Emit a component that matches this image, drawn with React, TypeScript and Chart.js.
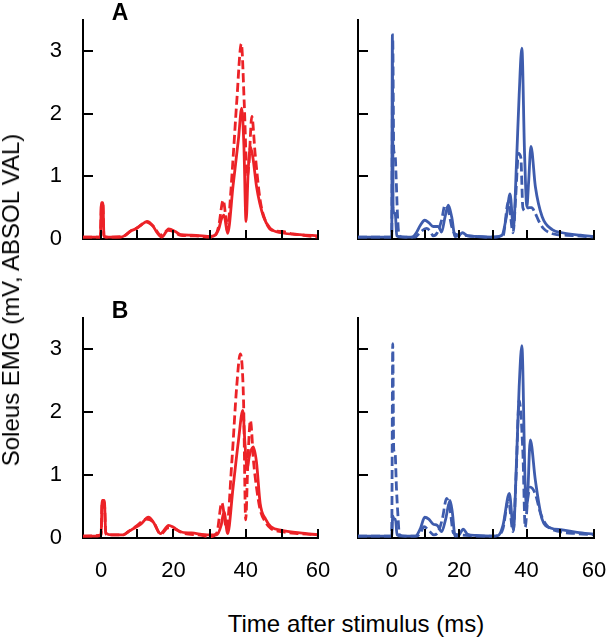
import React, { useEffect, useRef } from "react";
import { Chart, registerables } from "chart.js";

Chart.register(...registerables);

const RED = "#EC2227";
const BLUE = "#3E5CAD";
const FONT = "'Liberation Sans', Arial, Helvetica, sans-serif";

// Tick values
const X_TICKS = [0, 10, 20, 30, 40, 50, 60];
const X_LABELED = [0, 20, 40, 60];
const Y_TICKS = [0, 1, 2, 3];

// Panel A, left (red)
const aRedSolidT = [-5, -1, -0.2, 0.1, 0.5, 0.8, 1.2, 3, 5.5, 7, 8.2, 9.5, 11, 12.7, 14.2, 15.5, 16.8, 18.7, 20.5, 22, 25, 28, 30, 31.5, 32.5, 33.3, 34, 35, 36.5, 38, 38.9, 39.5, 40.1, 40.7, 41.3, 42, 43, 44.9, 46.8, 50, 55, 60];
const aRedSolidV = [0.03, 0.03, 0.03, 0.58, 0.58, 0.06, 0.03, 0.03, 0.03, 0.07, 0.13, 0.16, 0.22, 0.28, 0.22, 0.1, 0.03, 0.16, 0.12, 0.07, 0.06, 0.05, 0.04, 0.06, 0.15, 0.32, 0.38, 0.09, 0.85, 1.6, 2.09, 1.5, 0.28, 1.1, 1.47, 1.3, 0.84, 0.36, 0.17, 0.1, 0.07, 0.05];
const aRedDashT = [-5, -0.2, 0.1, 0.5, 0.8, 2, 6, 8, 10, 12.5, 14.5, 16.5, 18.5, 20, 22, 26, 30, 31.5, 32.5, 33.8, 34.4, 35, 35.7, 36.6, 37.5, 38.8, 39.6, 40.4, 40.9, 41.7, 42.6, 44, 45.4, 47.2, 50, 53, 56, 60];
const aRedDashV = [0.03, 0.03, 0.55, 0.55, 0.04, 0.03, 0.04, 0.12, 0.18, 0.27, 0.2, 0.06, 0.14, 0.12, 0.06, 0.05, 0.03, 0.05, 0.2, 0.62, 0.4, 0.12, 0.6, 1.37, 2.17, 3.12, 2.17, 1.0, 1.2, 1.96, 1.37, 0.62, 0.3, 0.14, 0.12, 0.08, 0.06, 0.03];

// Panel A, right (blue)
const aBlueSolidT = [-10, -0.3, 0, 0.2, 0.4, 0.7, 1.1, 1.5, 3, 6, 7.3, 8.5, 9.8, 11, 12.3, 13.8, 14.8, 15.8, 16.8, 17.8, 18.8, 20, 21, 22.5, 25, 30, 32.7, 34, 35.1, 36.1, 37, 37.8, 38.6, 39.4, 40.1, 40.6, 41.3, 42.6, 44.6, 47.6, 50.6, 56, 60];
const aBlueSolidV = [0.03, 0.03, 0.03, 3.26, 0.5, 0.42, 0.38, 0.05, 0.03, 0.03, 0.1, 0.22, 0.3, 0.26, 0.2, 0.2, 0.11, 0.35, 0.54, 0.35, 0.04, 0.06, 0.1, 0.05, 0.04, 0.03, 0.06, 0.35, 0.72, 0.17, 1.2, 2.3, 3.05, 1.37, 0.52, 0.9, 1.48, 0.84, 0.36, 0.15, 0.1, 0.06, 0.04];
const aBlueDashT = [-10, -0.3, 0, 0.3, 0.6, 1.0, 1.3, 1.7, 2.2, 4, 7, 8.3, 10.3, 11.5, 12.3, 13.5, 14.8, 15.8, 16.8, 17.8, 18.8, 21, 25, 30, 33, 34.6, 36, 36.8, 37.6, 38.3, 38.9, 39.6, 40.5, 41.5, 42.5, 43.5, 45, 48, 52, 60];
const aBlueDashV = [0.03, 0.03, 0.03, 3.2, 1.42, 1.35, 1.0, 0.4, 0.05, 0.03, 0.03, 0.1, 0.17, 0.12, 0.05, 0.1, 0.3, 0.54, 0.45, 0.2, 0.08, 0.06, 0.04, 0.03, 0.05, 0.6, 0.1, 0.7, 1.37, 1.3, 0.5, 0.45, 0.5, 0.5, 0.42, 0.3, 0.17, 0.08, 0.06, 0.03];

// Panel B, left (red)
const bRedSolidT = [-5, -1, 0, 0.3, 0.9, 1.3, 3, 6.2, 7.5, 9, 11, 13.1, 14.5, 16.4, 18.7, 20, 21.9, 25, 30, 32, 33.2, 34, 35, 36.5, 38, 39.2, 39.8, 40.4, 41, 42.1, 43, 44, 45.5, 47, 50, 55, 60];
const bRedSolidV = [0.03, 0.03, 0.05, 0.6, 0.6, 0.08, 0.05, 0.05, 0.1, 0.15, 0.22, 0.33, 0.25, 0.07, 0.2, 0.17, 0.1, 0.08, 0.05, 0.05, 0.2, 0.42, 0.07, 0.8, 1.55, 2.03, 1.5, 1.1, 1.3, 1.45, 1.2, 0.55, 0.3, 0.18, 0.12, 0.08, 0.05];
const bRedDashT = [-5, 0, 0.3, 0.9, 1.3, 3, 6, 8, 10, 12.5, 14.5, 16.5, 18.5, 20.5, 23, 27, 30, 32, 33.4, 34.7, 36.2, 37.5, 38.5, 39.4, 40, 40.6, 41.3, 42.2, 43, 44, 45.5, 47, 50, 55, 60];
const bRedDashV = [0.03, 0.05, 0.58, 0.58, 0.06, 0.05, 0.05, 0.12, 0.2, 0.3, 0.25, 0.06, 0.16, 0.14, 0.07, 0.05, 0.02, 0.08, 0.56, 0.15, 1.24, 2.4, 2.93, 2.2, 0.29, 1.2, 1.87, 1.2, 0.8, 0.45, 0.25, 0.15, 0.1, 0.07, 0.05];

// Panel B, right (blue)
const bBlueSolidT = [-10, -0.3, 0, 0.3, 0.7, 1.1, 1.6, 3, 7, 8.5, 9.8, 11, 12.3, 13.5, 14.8, 16, 17.3, 18, 18.8, 20, 21.2, 22.5, 25, 30, 31.6, 33, 34.9, 36.1, 37, 37.8, 38.6, 39.6, 40.1, 41.1, 42.6, 44.6, 47.1, 50.6, 55, 60];
const bBlueSolidV = [0.03, 0.03, 0.03, 0.35, 0.3, 0.3, 0.05, 0.03, 0.03, 0.15, 0.33, 0.3, 0.22, 0.2, 0.1, 0.3, 0.6, 0.4, 0.03, 0.05, 0.14, 0.06, 0.04, 0.03, 0.04, 0.2, 0.71, 0.13, 1.2, 2.4, 3.06, 0.81, 0.5, 1.56, 0.92, 0.3, 0.16, 0.13, 0.09, 0.06];
const bBlueDashT = [-10, -0.3, 0, 0.3, 0.6, 1.0, 1.4, 1.8, 2.3, 4, 7.5, 8.5, 9.6, 11, 12.5, 13.8, 15, 16.3, 17.3, 18.3, 20, 25, 30, 31.5, 33, 34.6, 36, 36.9, 37.8, 38.9, 39.6, 40.3, 41.1, 42.6, 44.1, 46, 50, 55, 60];
const bBlueDashV = [0.03, 0.03, 0.03, 3.09, 1.4, 1.35, 0.8, 0.4, 0.05, 0.03, 0.03, 0.08, 0.18, 0.12, 0.05, 0.1, 0.3, 0.63, 0.45, 0.08, 0.05, 0.03, 0.03, 0.04, 0.15, 0.6, 0.1, 1.0, 2.19, 1.37, 0.17, 0.6, 0.81, 0.7, 0.4, 0.2, 0.1, 0.07, 0.05];

const pts = (t: number[], v: number[]) => t.map((x, i) => ({ x, y: v[i] }));

type Panel = {
  key: string;
  left: number; top: number; width: number; height: number;
  area: { left: number; top: number; right: number; bottom: number };
  xMin: number;
  color: string;
  solid: { x: number; y: number }[];
  dashed: { x: number; y: number }[];
  showY: boolean;
  showX: boolean;
};

const PANELS: Panel[] = [
  { key: "AL", left: 0, top: 0, width: 340, height: 265, area: { left: 83, top: 20, right: 318, bottom: 239 }, xMin: -5, color: RED, solid: pts(aRedSolidT, aRedSolidV), dashed: pts(aRedDashT, aRedDashV), showY: true, showX: false },
  { key: "AR", left: 330, top: 0, width: 278, height: 265, area: { left: 358, top: 20, right: 594, bottom: 239 }, xMin: -10, color: BLUE, solid: pts(aBlueSolidT, aBlueSolidV), dashed: pts(aBlueDashT, aBlueDashV), showY: false, showX: false },
  { key: "BL", left: 0, top: 298, width: 340, height: 310, area: { left: 83, top: 318, right: 318, bottom: 538 }, xMin: -5, color: RED, solid: pts(bRedSolidT, bRedSolidV), dashed: pts(bRedDashT, bRedDashV), showY: true, showX: true },
  { key: "BR", left: 330, top: 298, width: 278, height: 310, area: { left: 358, top: 318, right: 594, bottom: 538 }, xMin: -10, color: BLUE, solid: pts(bBlueSolidT, bBlueSolidV), dashed: pts(bBlueDashT, bBlueDashV), showY: false, showX: true },
];

const inwardTicks = {
  id: "inwardTicks",
  afterDraw(chart: any) {
    const { ctx, chartArea, scales } = chart;
    const xs = scales.x;
    const ys = scales.y;
    ctx.save();
    ctx.strokeStyle = "#000";
    ctx.lineWidth = 2;
    ctx.beginPath();
    xs.ticks.forEach((t: any) => {
      const px = Math.round(xs.getPixelForValue(t.value));
      ctx.moveTo(px, chartArea.bottom);
      ctx.lineTo(px, chartArea.bottom - 9);
    });
    ys.ticks.forEach((t: any) => {
      if (t.value === 0) return;
      const py = Math.round(ys.getPixelForValue(t.value));
      ctx.moveTo(chartArea.left, py);
      ctx.lineTo(chartArea.left + 10, py);
    });
    ctx.stroke();
    ctx.restore();
  },
};

function PanelChart({ p }: { p: Panel }) {
  const ref = useRef<HTMLCanvasElement | null>(null);
  useEffect(() => {
    if (!ref.current) return;
    const yW = p.area.left - p.left;
    const xH = p.top + p.height - p.area.bottom;
    const chart = new Chart(ref.current, {
      type: "line",
      data: {
        datasets: [
          { data: p.solid, borderColor: p.color, borderWidth: 2.8, pointRadius: 0, fill: false, cubicInterpolationMode: "monotone" },
          { data: p.dashed, borderColor: p.color, borderWidth: 2.8, borderDash: [9, 4], pointRadius: 0, fill: false, cubicInterpolationMode: "monotone" },
        ],
      } as any,
      options: {
        responsive: false,
        maintainAspectRatio: false,
        animation: false,
        events: [],
        layout: { padding: { left: 0, top: p.area.top - p.top, right: p.left + p.width - p.area.right, bottom: 0 } },
        plugins: { legend: { display: false }, tooltip: { enabled: false } },
        scales: {
          x: {
            type: "linear",
            min: p.xMin,
            max: 60,
            afterBuildTicks: (s: any) => { s.ticks = X_TICKS.map((v) => ({ value: v })); },
            afterFit: (s: any) => { s.height = xH; },
            grid: { display: false, drawTicks: true, tickLength: 20 },
            border: { display: true, color: "#000", width: 2 },
            ticks: {
              display: p.showX,
              padding: 0,
              autoSkip: false,
              maxRotation: 0,
              color: "#000",
              font: { size: 22, family: FONT },
              callback: (v: any) => (X_LABELED.includes(Number(v)) ? String(v) : ""),
            },
          },
          y: {
            type: "linear",
            min: 0,
            max: 3.5,
            afterBuildTicks: (s: any) => { s.ticks = Y_TICKS.map((v) => ({ value: v })); },
            afterFit: (s: any) => { s.width = yW; },
            grid: { display: false, drawTicks: true, tickLength: 21 },
            border: { display: true, color: "#000", width: 2 },
            ticks: {
              display: p.showY,
              padding: 0,
              color: "#000",
              font: { size: 22, family: FONT },
              callback: (v: any) => String(v),
            },
          },
        },
      } as any,
      plugins: [inwardTicks],
    });
    return () => chart.destroy();
  }, [p]);
  return (
    <canvas
      ref={ref}
      width={p.width}
      height={p.height}
      style={{ position: "absolute", left: p.left, top: p.top, width: p.width, height: p.height }}
    />
  );
}

export default function App() {
  return (
    <div style={{ position: "absolute", left: 0, top: 0, width: 608, height: 639, background: "#fff", fontFamily: FONT, color: "#000" }}>
      {PANELS.map((p) => <PanelChart key={p.key} p={p} />)}
      <div style={{ position: "absolute", left: 100, top: 1, width: 40, textAlign: "center", fontWeight: "bold", fontSize: 23, lineHeight: "23px" }}>A</div>
      <div style={{ position: "absolute", left: 100, top: 299, width: 40, textAlign: "center", fontWeight: "bold", fontSize: 23, lineHeight: "23px" }}>B</div>
      <div style={{ position: "absolute", left: 11, top: 300, whiteSpace: "nowrap", fontSize: 24, lineHeight: "24px", transform: "translate(-50%, -50%) rotate(-90deg)" }}>
        Soleus EMG (mV, ABSOL VAL)
      </div>
      <div style={{ position: "absolute", left: 356, top: 612, whiteSpace: "nowrap", fontSize: 24, lineHeight: "24px", transform: "translateX(-50%)" }}>
        Time after stimulus (ms)
      </div>
    </div>
  );
}
